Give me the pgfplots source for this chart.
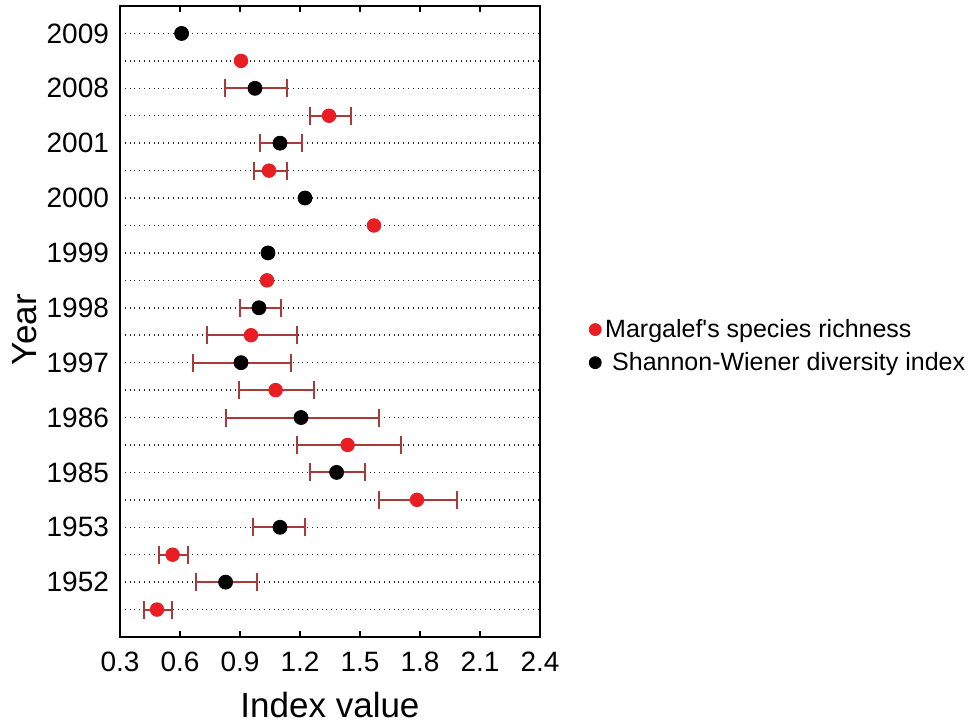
\documentclass[border=0pt]{standalone}
\usepackage{pgfplots}
\pgfplotsset{compat=1.18}
\usepackage{fontspec}
\setmainfont{Liberation Sans}
\definecolor{mred}{RGB}{232,30,36}
\definecolor{errc}{RGB}{168,58,58}
\begin{document}
\begin{tikzpicture}
\begin{axis}[
    scale only axis,
    width=210pt, height=315.5pt,
    xmin=0.3, xmax=2.4,
    ymin=-1, ymax=22,
    xtick={0.3,0.6,...,2.4},
    xticklabel style={/pgf/number format/fixed, /pgf/number format/precision=1,
        /pgf/number format/fixed zerofill},
    ytick={0,...,21},
    yticklabels={,1952,,1953,,1985,,1986,,1997,,1998,,1999,,2000,,2001,,2008,,2009},
    ymajorgrids=true,
    grid style={dotted, black!85, line width=0.75pt},
    y tick style={draw=none},
    x tick style={black, line width=0.8pt},
    major tick length=3pt,
    tick align=inside,
    axis line style={line width=1pt},
    /pgf/number format/assume math mode=true,
    tick label style={font=\fontsize{14}{16}\selectfont},
    yticklabel style={xshift=-2pt},
    xticklabel style={yshift=-4pt},
    xlabel={Index value},
    ylabel={Year},
    label style={font=\fontsize{17.5}{20}\selectfont},
    xlabel style={at={(axis description cs:0.5,-0.108)}, anchor=center},
    ylabel style={at={(axis description cs:-0.226,0.487)}, anchor=center, rotate=0},
    legend style={at={(1.102,0.461)}, anchor=west, draw=none, fill=none,
        font=\fontsize{12.5}{14}\selectfont, row sep=2pt,
        legend cell align=left},
    legend image post style={mark size=3pt},
]
% error bars (Margalef)
\addplot[draw=none, forget plot,
    error bars/.cd, x dir=both, x explicit,
    error bar style={draw=errc, line width=1pt, solid},
    error mark options={draw=errc, line width=1pt, mark size=4.5pt, rotate=90}]
    coordinates {
    (0.485,0) += (0.073,0) -= (0.063,0)
    (0.563,2) += (0.075,0) -= (0.068,0)
    (1.785,4) += (0.198,0) -= (0.188,0)
    (1.438,6) += (0.267,0) -= (0.253,0)
    (1.078,8) += (0.192,0) -= (0.183,0)
    (0.955,10) += (0.230,0) -= (0.220,0)
    (1.045,16) += (0.090,0) -= (0.075,0)
    (1.345,18) += (0.110,0) -= (0.095,0)
    };
% error bars (Shannon-Wiener)
\addplot[draw=none, forget plot,
    error bars/.cd, x dir=both, x explicit,
    error bar style={draw=errc, line width=1pt, solid},
    error mark options={draw=errc, line width=1pt, mark size=4.5pt, rotate=90}]
    coordinates {
    (0.828,1) += (0.155,0) -= (0.150,0)
    (1.100,3) += (0.125,0) -= (0.135,0)
    (1.383,5) += (0.142,0) -= (0.135,0)
    (1.205,7) += (0.388,0) -= (0.377,0)
    (0.905,9) += (0.250,0) -= (0.240,0)
    (0.995,11) += (0.110,0) -= (0.095,0)
    (1.100,17) += (0.110,0) -= (0.100,0)
    (0.975,19) += (0.158,0) -= (0.150,0)
    };
\addplot[only marks, mark=*, mark size=3.4pt, color=mred]
    coordinates {
    (0.485,0) (0.563,2) (1.785,4) (1.438,6) (1.078,8) (0.955,10)
    (1.035,12) (1.570,14) (1.045,16) (1.345,18) (0.905,20)
    };
\addlegendentry{Margalef\textquotesingle s species richness}
\addplot[only marks, mark=*, mark size=3.5pt, color=black]
    coordinates {
    (0.828,1) (1.100,3) (1.383,5) (1.205,7) (0.905,9) (0.995,11)
    (1.040,13) (1.225,15) (1.100,17) (0.975,19) (0.608,21)
    };
\addlegendentry{\ Shannon-Wiener diversity index}
\end{axis}
\pgfresetboundingbox
\path[use as bounding box] (-60pt,-44pt) rectangle (427pt,318.5pt);
\end{tikzpicture}
\end{document}
